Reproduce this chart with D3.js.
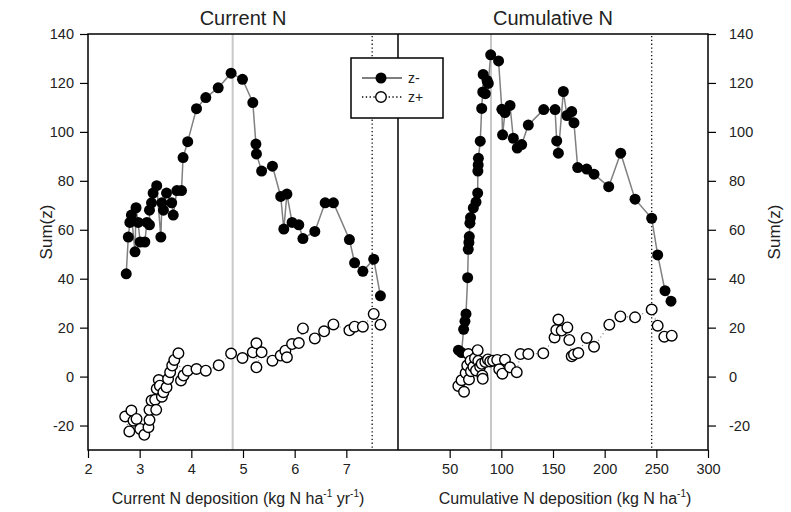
<!DOCTYPE html>
<meta charset="utf-8">
<script src="https://cdn.jsdelivr.net/npm/d3@7"></script>
<style>
  body { margin: 0; background: #fff; }
  text { font-family: "Liberation Sans", Arial, sans-serif; fill: #222; }
</style>
<div id="chart"></div>
<script>

// ---- data ----
// Current N panel: z- (filled) and z+ (open)
var curMinusX = [2.74, 2.78, 2.81, 2.84, 2.91, 2.93, 2.97, 3.01, 3.10, 3.14, 3.19, 3.19, 3.23, 3.26, 3.33, 3.41, 3.43, 3.46, 3.52, 3.62, 3.65, 3.72, 3.81, 3.84, 3.93, 4.10, 4.28, 4.52, 4.77, 4.99, 5.19, 5.25, 5.26, 5.36, 5.57, 5.73, 5.79, 5.85, 5.95, 6.08, 6.16, 6.39, 6.59, 6.75, 7.06, 7.16, 7.32, 7.53, 7.66];
var curMinusY = [42, 57, 63, 66, 51, 69, 63, 55, 55, 63, 62, 68, 71, 75, 78, 57, 71, 68, 75, 71, 66, 76, 76, 89.5, 96, 109.5, 114, 118, 124, 121.5, 112, 95, 91, 84, 86, 73.6, 60.3, 74.6, 63, 62, 56.4, 59.3, 71, 71, 56, 46.5, 43, 48, 33];

var curPlusX = [2.72, 2.80, 2.84, 2.88, 2.94, 3.01, 3.09, 3.17, 3.19, 3.19, 3.23, 3.30, 3.32, 3.33, 3.37, 3.39, 3.43, 3.46, 3.52, 3.55, 3.59, 3.63, 3.67, 3.75, 3.80, 3.85, 3.93, 4.10, 4.28, 4.53, 4.77, 4.99, 5.19, 5.26, 5.26, 5.36, 5.57, 5.73, 5.82, 5.85, 5.95, 6.08, 6.16, 6.39, 6.57, 6.75, 7.06, 7.16, 7.32, 7.53, 7.66];
var curPlusY = [-16.3, -22.4, -13.9, -18, -17.3, -21.4, -23.8, -20.7, -17.7, -13.6, -9.8, -9.5, -13.6, -5, -1.4, -3.7, -8.2, -6.4, -4.4, -1, 1.8, 4.5, 6.8, 9.5, -1.6, 0.4, 2.4, 3.1, 2.4, 4.6, 9.4, 7.6, 9.9, 13.6, 3.8, 9.9, 6.5, 8.6, 10.6, 7.9, 13.3, 13.7, 19.7, 15.6, 18.5, 21.3, 18.9, 20.4, 20.4, 25.6, 21.2];

// Cumulative N panel
var cumMinusX = [58.5, 61.5, 63.5, 64.8, 65.8, 67.4, 68.0, 68.6, 69.0, 69.6, 70.2, 72.9, 75.5, 77.1, 77.3, 77.6, 77.8, 79.6, 81.0, 82.0, 82.4, 84.5, 86.2, 87.4, 89.7, 97.3, 100.5, 101.2, 103.5, 108.4, 111.6, 115.4, 119.7, 126.1, 141.0, 152.0, 153.6, 155.2, 160.0, 163.5, 168.1, 170.3, 173.9, 182.6, 189.7, 203.9, 215.5, 229.4, 245.5, 251.3, 258.4, 264.2];
var cumMinusY = [10.8, 9.8, 19.3, 22.6, 25.6, 40.4, 52.0, 54.8, 57.2, 62.7, 65.0, 68.9, 71.3, 75.0, 84.0, 86.5, 89.2, 96.2, 109.6, 116.3, 123.5, 115.6, 121.0, 119.8, 131.5, 129.0, 109.2, 98.8, 107.9, 110.8, 97.4, 93.4, 94.8, 102.8, 109.1, 109.1, 96.3, 91.3, 116.5, 106.7, 108.3, 103.7, 85.4, 84.8, 82.7, 77.6, 91.3, 72.5, 64.7, 49.7, 35.1, 30.8];

var cumPlusX = [58.4, 61.5, 63.9, 65.5, 67.0, 68.1, 68.7, 70.2, 70.6, 72.9, 74.5, 75.5, 77.1, 77.7, 79.5, 81.0, 81.6, 82.0, 84.5, 87.0, 89.2, 92.0, 96.0, 98.0, 101.0, 103.5, 108.4, 114.9, 118.5, 126.1, 140.6, 151.5, 153.2, 155.2, 158.4, 163.9, 165.8, 168.1, 170.3, 174.5, 182.6, 189.7, 204.5, 215.2, 229.4, 245.5, 251.3, 257.7, 264.9];
var cumPlusY = [-3.8, -1.5, -6.2, 1.5, 4.5, 9.2, -1.2, 6.5, 2.2, 4.0, 7.5, 2.5, 10.8, 6.4, 4.0, 5.2, 0.4, -0.9, 6.0, 7.0, 6.2, 6.5, 6.8, 3.0, 1.2, 6.9, 3.8, 1.8, 9.2, 9.2, 9.5, 16.0, 19.0, 23.3, 18.8, 20.1, 15.0, 8.3, 9.0, 9.6, 15.8, 12.2, 21.2, 24.6, 24.2, 27.4, 20.8, 16.3, 16.7];

var yTicks = [-20, 0, 20, 40, 60, 80, 100, 120, 140];
var curTicks = [2, 3, 4, 5, 6, 7];
var cumTicks = [50, 100, 150, 200, 250, 300];
// change points: grey = z- peak, dotted = z+ peak
var curLines = {grey: 4.8, dotted: 7.5};
var cumLines = {grey: 90, dotted: 245.5};

var width = 791, height = 512;
var top_ = 34, bottom = 450, left = 88, mid = 398, right = 708;

var svg = d3.select("#chart").append("svg")
  .attr("width", width)
  .attr("height", height);

svg.append("rect").attr("width", width).attr("height", height).attr("fill", "#fff");

var y = d3.scaleLinear().domain([-30, 140]).range([bottom, top_]);
var xCur = d3.scaleLinear().domain([2, 8]).range([left, mid]);
var xCum = d3.scaleLinear().domain([0, 300]).range([mid, right]);

function zip(xs, ys) { return xs.map(function(v, i) { return [v, ys[i]]; }); }

function panel(x, minusX, minusY, plusX, plusY, lines) {
  var g = svg.append("g");
  // reference lines
  g.append("line")
    .attr("x1", x(lines.grey)).attr("x2", x(lines.grey))
    .attr("y1", top_).attr("y2", bottom)
    .attr("stroke", "#c8c8c8").attr("stroke-width", 2);
  g.append("line")
    .attr("x1", x(lines.dotted)).attr("x2", x(lines.dotted))
    .attr("y1", top_ + 2).attr("y2", bottom - 2)
    .attr("stroke", "#111").attr("stroke-width", 1.3)
    .attr("stroke-dasharray", "1.3,2.5");

  var line = d3.line().x(function(d) { return x(d[0]); }).y(function(d) { return y(d[1]); });
  var minus = zip(minusX, minusY), plus = zip(plusX, plusY);

  g.append("path").datum(plus).attr("d", line)
    .attr("fill", "none").attr("stroke", "#777").attr("stroke-width", 1.2)
    .attr("stroke-dasharray", "1,3");
  g.append("path").datum(minus).attr("d", line)
    .attr("fill", "none").attr("stroke", "#808080").attr("stroke-width", 1.5);

  g.selectAll(".m").data(minus).enter().append("circle")
    .attr("cx", function(d) { return x(d[0]); })
    .attr("cy", function(d) { return y(d[1]); })
    .attr("r", 5.5).attr("fill", "#000");
  g.selectAll(".p").data(plus).enter().append("circle")
    .attr("cx", function(d) { return x(d[0]); })
    .attr("cy", function(d) { return y(d[1]); })
    .attr("r", 5.3).attr("fill", "#fff")
    .attr("stroke", "#000").attr("stroke-width", 1.4);
}

panel(xCur, curMinusX, curMinusY, curPlusX, curPlusY, curLines);
panel(xCum, cumMinusX, cumMinusY, cumPlusX, cumPlusY, cumLines);

// axes
var fmt = function(d) { return String(d); };
function style(a) {
  a.select(".domain").remove();
  a.selectAll(".tick line").attr("stroke", "#000").attr("stroke-width", 1.2);
  a.selectAll("text").style("font-size", "14.5px").style("font-family", "Liberation Sans, Arial, sans-serif").attr("fill", "#222");
}
svg.append("g").attr("transform", "translate(0," + bottom + ")")
  .call(d3.axisBottom(xCur).tickValues(curTicks).tickFormat(fmt).tickSize(8).tickPadding(6)).call(style);
svg.append("g").attr("transform", "translate(0," + bottom + ")")
  .call(d3.axisBottom(xCum).tickValues(cumTicks).tickFormat(fmt).tickSize(8).tickPadding(6)).call(style);
svg.append("g").attr("transform", "translate(" + left + ",0)")
  .call(d3.axisLeft(y).tickValues(yTicks).tickFormat(fmt).tickSize(8).tickPadding(6)).call(style);
svg.append("g").attr("transform", "translate(" + right + ",0)")
  .call(d3.axisRight(y).tickValues(yTicks).tickFormat(fmt).tickSize(8).tickPadding(13)).call(style);

// frame
var frame = svg.append("g").attr("stroke", "#000").attr("stroke-width", 1.5);
frame.append("rect").attr("x", left).attr("y", top_).attr("width", right - left).attr("height", bottom - top_).attr("fill", "none");
frame.append("line").attr("x1", mid).attr("x2", mid).attr("y1", top_).attr("y2", bottom);

// legend
var lg = svg.append("g");
lg.append("rect").attr("x", 351).attr("y", 58).attr("width", 92).attr("height", 60)
  .attr("fill", "#fff").attr("stroke", "#000").attr("stroke-width", 1.5);
lg.append("line").attr("x1", 362).attr("x2", 402).attr("y1", 78).attr("y2", 78)
  .attr("stroke", "#555").attr("stroke-width", 1.3);
lg.append("circle").attr("cx", 381).attr("cy", 78).attr("r", 5.5).attr("fill", "#000");
lg.append("line").attr("x1", 362).attr("x2", 402).attr("y1", 97).attr("y2", 97)
  .attr("stroke", "#000").attr("stroke-width", 1.3).attr("stroke-dasharray", "1.3,2.5");
lg.append("circle").attr("cx", 381).attr("cy", 97).attr("r", 5.3).attr("fill", "#fff")
  .attr("stroke", "#000").attr("stroke-width", 1.4);
lg.append("text").attr("x", 408).attr("y", 83).style("font-size", "14px").text("z-");
lg.append("text").attr("x", 408).attr("y", 102).style("font-size", "14px").text("z+");

// titles
svg.append("text").attr("x", 243).attr("y", 25).attr("text-anchor", "middle")
  .style("font-size", "20px").text("Current N");
svg.append("text").attr("x", 553).attr("y", 25).attr("text-anchor", "middle")
  .style("font-size", "20px").text("Cumulative N");

// y labels
svg.append("text").attr("transform", "translate(52,232)rotate(-90)").attr("text-anchor", "middle")
  .style("font-size", "17px").text("Sum(z)");
svg.append("text").attr("transform", "translate(780,232)rotate(-90)").attr("text-anchor", "middle")
  .style("font-size", "17px").text("Sum(z)");

// x labels with superscripts
var xl1 = svg.append("text").attr("x", 238).attr("y", 504).attr("text-anchor", "middle").style("font-size", "16px");
xl1.append("tspan").text("Current N deposition (kg N ha");
xl1.append("tspan").attr("dy", -7).style("font-size", "10px").text("-1");
xl1.append("tspan").attr("dy", 7).text(" yr");
xl1.append("tspan").attr("dy", -7).style("font-size", "10px").text("-1");
xl1.append("tspan").attr("dy", 7).text(")");

var xl2 = svg.append("text").attr("x", 565).attr("y", 504).attr("text-anchor", "middle").style("font-size", "16px");
xl2.append("tspan").text("Cumulative N deposition (kg N ha");
xl2.append("tspan").attr("dy", -7).style("font-size", "10px").text("-1");
xl2.append("tspan").attr("dy", 7).text(")");

</script>
